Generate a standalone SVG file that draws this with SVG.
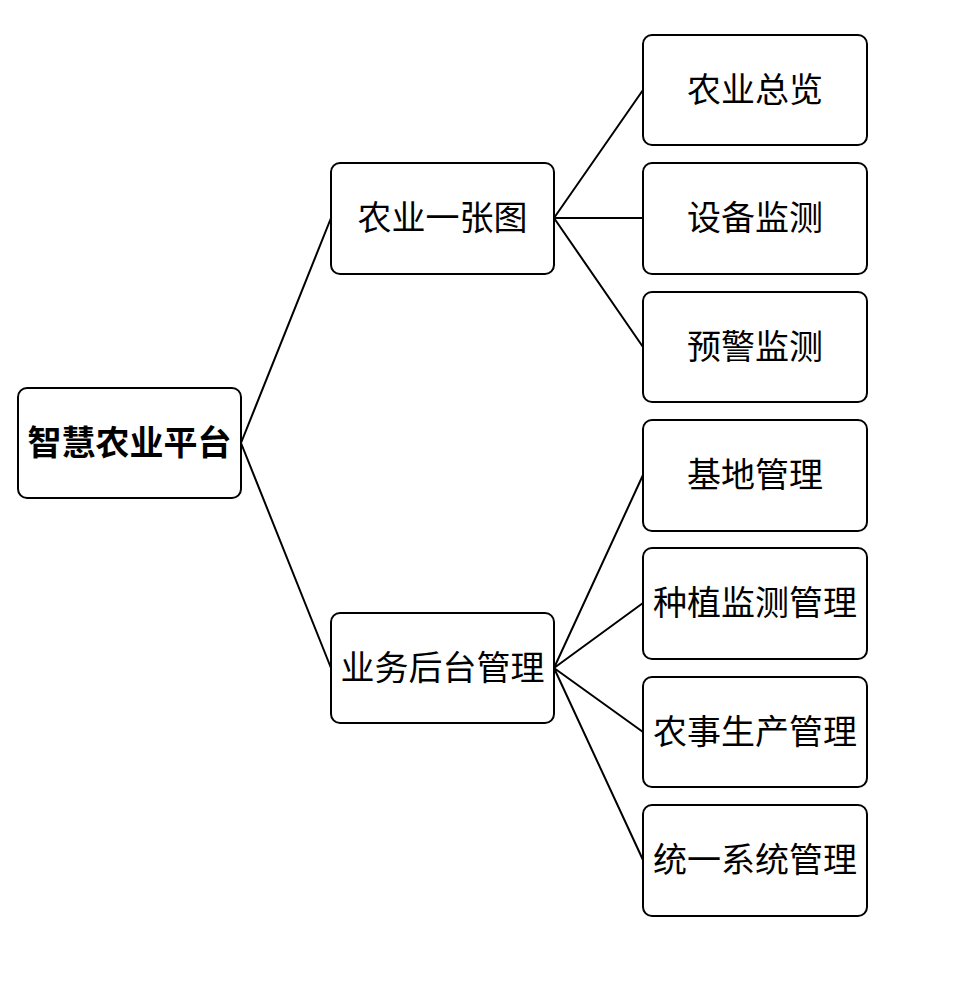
<svg xmlns="http://www.w3.org/2000/svg" width="968" height="981" viewBox="0 0 968 981">
<style>
.box{fill:#fff;stroke:#000;stroke-width:2}
.t{font-family:"Noto Sans CJK SC","Noto Sans",sans-serif;font-size:34px;text-anchor:middle;dominant-baseline:central;fill:#000}
.b{font-weight:bold}
.c{stroke:#000;stroke-width:2;fill:none}
</style>
<rect width="968" height="981" fill="#fff"/>
<g id="connectors">
<path class="c" d="M241 443L331 218M241 443L331 668M554 218L643 90M554 218L643 218M554 218L643 347M554 668L643 475M554 668L643 603M554 668L643 732M554 668L643 860"/>
</g>
<g id="root"><rect class="box" x="18" y="388" width="223" height="110" rx="9"/><text class="t b" x="129.5" y="440">智慧农业平台</text></g>
<g id="n1"><rect class="box" x="331" y="163" width="223" height="111" rx="9"/><text class="t" x="442.5" y="215">农业一张图</text></g>
<g id="n2"><rect class="box" x="331" y="613" width="223" height="110" rx="9"/><text class="t" x="442.5" y="665">业务后台管理</text></g>
<g id="l1"><rect class="box" x="643" y="35" width="224" height="110" rx="9"/><text class="t" x="755" y="87">农业总览</text></g>
<g id="l2"><rect class="box" x="643" y="163" width="224" height="111" rx="9"/><text class="t" x="755" y="215">设备监测</text></g>
<g id="l3"><rect class="box" x="643" y="292" width="224" height="110" rx="9"/><text class="t" x="755" y="344">预警监测</text></g>
<g id="l4"><rect class="box" x="643" y="420" width="224" height="111" rx="9"/><text class="t" x="755" y="472">基地管理</text></g>
<g id="l5"><rect class="box" x="643" y="548" width="224" height="111" rx="9"/><text class="t" x="755" y="600">种植监测管理</text></g>
<g id="l6"><rect class="box" x="643" y="677" width="224" height="110" rx="9"/><text class="t" x="755" y="729">农事生产管理</text></g>
<g id="l7"><rect class="box" x="643" y="805" width="224" height="111" rx="9"/><text class="t" x="755" y="857">统一系统管理</text></g>
</svg>
